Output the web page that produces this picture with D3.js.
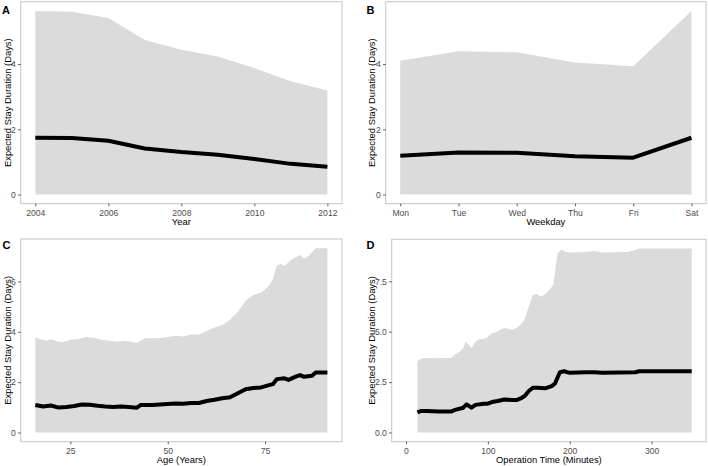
<!DOCTYPE html>
<html><head><meta charset="utf-8">
<script src="https://cdn.jsdelivr.net/npm/d3@7"></script>
<style>
body{margin:0;background:#fff;}
svg{display:block;font-family:"Liberation Sans",Arial,Helvetica,sans-serif;}
</style></head>
<body>
<svg id="chart" width="708" height="466"></svg>
<script>
// ---- Data ----
const yearsA = [2004, 2005, 2006, 2007, 2008, 2009, 2010, 2011, 2012];
const meanA  = [1.74, 1.73, 1.65, 1.41, 1.30, 1.22, 1.09, 0.94, 0.85];
const upperA = [5.63, 5.60, 5.41, 4.74, 4.44, 4.23, 3.88, 3.47, 3.19];

const weekdays = ["Mon", "Tue", "Wed", "Thu", "Fri", "Sat"];
const meanB  = [1.19, 1.29, 1.28, 1.17, 1.13, 1.74];
const upperB = [4.10, 4.39, 4.36, 4.05, 3.93, 5.63];

const ageUpperX = [16,18,19,20,22,23,25,27,29,31,33,35,37,39,41,42,44,46,48,50,52,54,56,58,60,62,64,66,68,70,72,74,76,77,78,79,80,82,84,85,86,88,91];
const upperC    = [3.77,3.68,3.64,3.71,3.60,3.58,3.68,3.71,3.79,3.76,3.68,3.64,3.60,3.64,3.58,3.55,3.74,3.74,3.75,3.79,3.84,3.81,3.89,3.89,4.03,4.17,4.26,4.48,4.79,5.23,5.46,5.56,5.83,6.09,6.62,6.69,6.62,6.89,7.05,6.91,6.99,7.32,7.32];
const ageMeanX  = [16,18,20,22,24,26,28,30,32,34,36,38,40,42,43,46,48,50,52,54,56,58,60,62,64,66,68,70,72,74,76,77,78,80,81,83,84,85,87,88,91];
const meanC     = [1.09,1.03,1.07,0.99,1.01,1.05,1.11,1.10,1.06,1.03,1.01,1.03,1.01,0.98,1.09,1.09,1.11,1.13,1.15,1.14,1.17,1.17,1.25,1.30,1.36,1.40,1.56,1.72,1.77,1.79,1.88,1.92,2.12,2.15,2.09,2.23,2.28,2.21,2.25,2.38,2.38];

const opUpperX = [14,18,22,30,40,50,55,60,65,70,73,76,80,85,90,95,100,105,110,115,120,125,130,135,140,145,150,155,160,165,170,175,180,185,190,195,200,220,230,240,270,280,285,349];
const upperD   = [3.54,3.65,3.70,3.70,3.68,3.70,3.70,3.87,4.00,4.19,4.52,4.39,4.19,4.52,4.64,4.64,4.74,4.93,4.98,5.10,5.18,5.15,5.10,5.18,5.35,5.63,6.25,6.83,6.86,6.74,6.86,7.07,7.32,8.88,9.08,8.96,8.93,8.96,9.00,8.93,8.96,9.05,9.13,9.13];
const opMeanX  = [14,18,25,40,55,60,70,74,80,85,95,100,105,112,120,130,135,140,145,150,155,160,170,178,182,188,193,200,220,230,240,280,285,349];
const meanD    = [0.99,1.07,1.07,1.04,1.04,1.12,1.23,1.40,1.23,1.37,1.43,1.43,1.51,1.56,1.64,1.61,1.61,1.69,1.81,2.06,2.22,2.22,2.19,2.30,2.43,2.99,3.04,2.96,2.99,2.99,2.96,2.99,3.04,3.04];

const ticksA = [2004, 2006, 2008, 2010, 2012];
const ticksC = [25, 50, 75];
const ticksD = [0, 100, 200, 300];
const yTicksAB = [0, 2, 4];
const yTicksC = [0, 2, 4, 6];
const yTicksD = [0, 2.5, 5, 7.5];

// ---- Drawing ----
const svg = d3.select("#chart");
const RIBBON = "#dbdbdb", BORDER = "#c4c4c4", TICKCOL = "#4d4d4d";

function expand(ext) {
  const r = ext[1] - ext[0];
  return [ext[0] - 0.05 * r, ext[1] + 0.05 * r];
}

function panel(cfg) {
  const {box, label, labelPos, xTitle, yTitleX, x, ribbonX, ribbonY, lineX, lineY, xTicks, xFmt, yTicks, yFmt} = cfg;
  const g = svg.append("g");
  const yMax = d3.max(ribbonY);
  const y = d3.scaleLinear().domain(expand([0, yMax])).range([box.y1, box.y0]);

  g.append("rect").attr("x", box.x0).attr("y", box.y0)
    .attr("width", box.x1 - box.x0).attr("height", box.y1 - box.y0)
    .attr("fill", "none").attr("stroke", BORDER).attr("stroke-width", 1);

  const idx = d3.range(ribbonX.length);
  g.append("path")
    .attr("d", d3.area().x(i => x(ribbonX[i])).y0(y(0)).y1(i => y(ribbonY[i]))(idx))
    .attr("fill", RIBBON);

  const lidx = d3.range(lineX.length);
  g.append("path")
    .attr("d", d3.line().x(i => x(lineX[i])).y(i => y(lineY[i]))(lidx))
    .attr("fill", "none").attr("stroke", "#000").attr("stroke-width", 4)
    .attr("stroke-linejoin", "round").attr("stroke-linecap", "butt");

  // x axis
  const xa = g.append("g").attr("transform", `translate(0,${box.y1})`)
    .call(d3.axisBottom(x).tickValues(xTicks).tickFormat(xFmt).tickSize(2.6).tickPadding(3.2));
  xa.select(".domain").remove();
  xa.selectAll("line").attr("stroke", "#333").attr("stroke-width", 0.8);
  xa.selectAll("text").attr("fill", TICKCOL).attr("font-size", "8.6px").attr("font-family", null);

  // y axis
  const ya = g.append("g").attr("transform", `translate(${box.x0},0)`)
    .call(d3.axisLeft(y).tickValues(yTicks).tickFormat(yFmt).tickSize(2.6).tickPadding(2.2));
  ya.select(".domain").remove();
  ya.selectAll("line").attr("stroke", "#333").attr("stroke-width", 0.8);
  ya.selectAll("text").attr("fill", TICKCOL).attr("font-size", "8.6px").attr("font-family", null);

  // titles
  g.append("text").attr("x", (box.x0 + box.x1) / 2).attr("y", box.y1 + 21.5)
    .attr("text-anchor", "middle").attr("font-size", "9.4px").attr("fill", "#000").text(xTitle);
  g.append("text")
    .attr("transform", `translate(${yTitleX},${(box.y0 + box.y1) / 2}) rotate(-90)`)
    .attr("text-anchor", "middle").attr("font-size", "9.4px").attr("fill", "#000")
    .text("Expected Stay Duration (Days)");
  g.append("text").attr("x", labelPos[0]).attr("y", labelPos[1])
    .attr("font-size", "11px").attr("font-weight", "bold").attr("fill", "#000").text(label);
}

// Panel A
{
  const box = {x0: 20.7, x1: 342, y0: 1.7, y1: 203.7};
  const x = d3.scaleLinear().domain(expand(d3.extent(yearsA))).range([box.x0, box.x1]);
  panel({box, label: "A", labelPos: [2, 13.5], xTitle: "Year", yTitleX: 11, x,
    ribbonX: yearsA, ribbonY: upperA, lineX: yearsA, lineY: meanA,
    xTicks: ticksA, xFmt: d3.format("d"), yTicks: yTicksAB, yFmt: d3.format("d")});
}
// Panel B
{
  const box = {x0: 385.7, x1: 706, y0: 1.7, y1: 203.7};
  const x = d3.scalePoint().domain(weekdays).range([box.x0, box.x1]).padding(0.25);
  panel({box, label: "B", labelPos: [366.5, 13.5], xTitle: "Weekday", yTitleX: 374.5, x,
    ribbonX: weekdays, ribbonY: upperB, lineX: weekdays, lineY: meanB,
    xTicks: weekdays, xFmt: d => d, yTicks: yTicksAB, yFmt: d3.format("d")});
}
// Panel C
{
  const box = {x0: 20.7, x1: 342, y0: 239, y1: 441.7};
  const x = d3.scaleLinear().domain(expand(d3.extent(ageUpperX))).range([box.x0, box.x1]);
  panel({box, label: "C", labelPos: [2.5, 248.5], xTitle: "Age (Years)", yTitleX: 10.5, x,
    ribbonX: ageUpperX, ribbonY: upperC, lineX: ageMeanX, lineY: meanC,
    xTicks: ticksC, xFmt: d3.format("d"), yTicks: yTicksC, yFmt: d3.format("d")});
}
// Panel D
{
  const box = {x0: 391.7, x1: 706, y0: 239.3, y1: 441.7};
  const x = d3.scaleLinear().domain(expand(d3.extent([0].concat(opUpperX)))).range([box.x0, box.x1]);
  panel({box, label: "D", labelPos: [366.5, 248.5], xTitle: "Operation Time (Minutes)", yTitleX: 375, x,
    ribbonX: opUpperX, ribbonY: upperD, lineX: opMeanX, lineY: meanD,
    xTicks: ticksD, xFmt: d3.format("d"), yTicks: yTicksD, yFmt: d3.format(".1f")});
}
</script>
</body></html>
